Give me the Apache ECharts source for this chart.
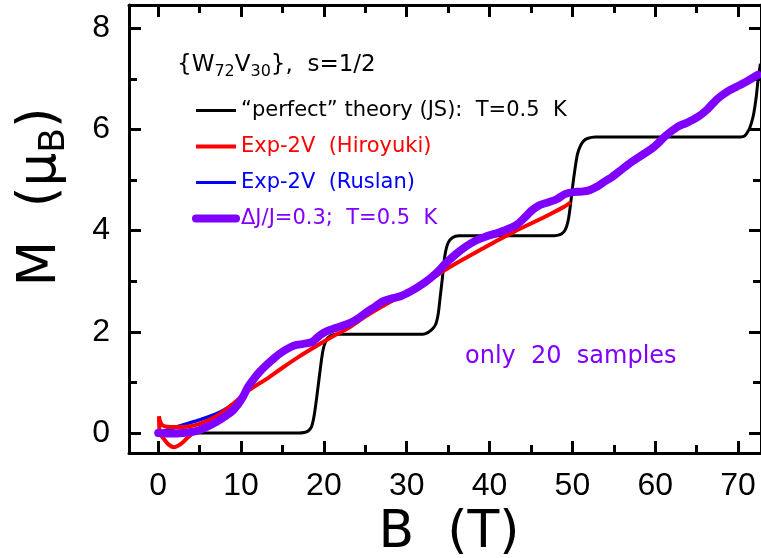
<!DOCTYPE html>
<html><head><meta charset="utf-8">
<script src="https://cdn.jsdelivr.net/npm/echarts@6/dist/echarts.min.js"></script>
<style>html,body{margin:0;padding:0;background:#fff}#c{width:761px;height:558px}</style>
</head><body><div id="c"></div>
<script>
// ---- tick values ----
const xMajorTicks = [0, 10, 20, 30, 40, 50, 60, 70];
const xMinorTicks = [5, 15, 25, 35, 45, 55, 65];
const yMajorTicks = [0, 2, 4, 6, 8];
const yMinorTicks = [1, 3, 5, 7];

// ---- series names ----
const nameTheory = '\u201Cperfect\u201D theory (JS):  T=0.5  K';
const nameHiro = 'Exp-2V  (Hiroyuki)';
const nameRuslan = 'Exp-2V  (Ruslan)';
const namePurple = '\u0394J/J=0.3;  T=0.5  K';

// ---- "perfect" theory (black) ----
const blackB = [0, 17.0, 17.6, 18.1, 18.5, 18.8, 19.1, 19.5, 19.9, 20.3, 20.8, 21.5, 23,
  31.5, 32.2, 33.0, 33.5, 33.8, 34.05, 34.3, 34.6, 35.0, 35.5, 36.3, 38,
  47.8, 48.5, 49.0, 49.3, 49.55, 49.8, 50.05, 50.3, 50.6, 50.9, 51.3, 51.8, 52.8,
  70.3, 70.8, 71.3, 71.6, 71.9, 72.2, 72.4, 72.7];
const blackM = [0, 0, 0.01, 0.04, 0.12, 0.32, 0.66, 1.18, 1.64, 1.84, 1.92, 1.95, 1.95,
  1.95, 1.96, 2.04, 2.15, 2.35, 2.7, 3.05, 3.5, 3.76, 3.86, 3.9, 3.9,
  3.9, 3.92, 3.98, 4.08, 4.25, 4.55, 4.9, 5.2, 5.5, 5.65, 5.76, 5.82, 5.85,
  5.85, 5.87, 5.99, 6.12, 6.32, 6.65, 6.95, 7.3];

// ---- Exp-2V (Hiroyuki), red ----
const redB = [4.3, 3.5, 2.7, 1.9, 1.2, 0.6, 0.2, 0.1, 0.3, 0.8, 1.5, 3.0, 5.0, 7.0, 9.0, 11.0,
  13.0, 15.0, 17.0, 19.0, 21.0, 23.0, 25.0, 27.0, 29.0, 31.0, 33.0, 35.0, 37.0,
  39.0, 41.0, 43.0, 45.0, 47.0, 49.0, 49.8];
const redM = [0.02, -0.1, -0.22, -0.28, -0.22, -0.1, 0.0, 0.33, 0.2, 0.13, 0.12, 0.12, 0.18, 0.33, 0.57, 0.85,
  1.06, 1.29, 1.51, 1.71, 1.9, 2.08, 2.3, 2.5, 2.68, 2.86, 3.05, 3.26, 3.45,
  3.63, 3.81, 3.98, 4.14, 4.3, 4.47, 4.56];

// ---- Exp-2V (Ruslan), blue ----
const blueB = [0, 1.5, 3.0, 5.0, 7.0, 8.0, 9.0];
const blueM = [0, 0.08, 0.16, 0.26, 0.38, 0.46, 0.57];

// ---- dJ/J=0.3, purple ----
const purpleB = [0, 1.5, 3, 4, 5, 6, 7.05, 8, 9.05, 9.7, 10.25, 10.8, 11.45, 12.2, 13.05, 14, 15.05,
  16, 16.7, 17.9, 18.6, 19.1, 19.7, 20.3, 21.5, 23.1, 24.2, 25.1, 26.2, 27.1, 28.2, 29.2, 30,
  31, 32.3, 33.5, 34.7, 35.9, 37.1, 38.3, 39.5, 40.7, 41.9, 43.3, 44.2, 45.1, 46, 47.1, 48.1,
  49.1, 50.1, 51.1, 52.1, 53.1, 54, 54.7, 55.9, 57.1, 58.5, 59.9, 61.3, 62.7, 63.8, 65.1,
  66.2, 67.5, 68.75, 69.8, 70.75, 72.4];
const purpleM = [0, -0.01, 0.0, 0.02, 0.06, 0.13, 0.22, 0.32, 0.45, 0.58, 0.72, 0.9, 1.05, 1.2, 1.34, 1.48, 1.61,
  1.7, 1.74, 1.77, 1.8, 1.87, 1.95, 2.01, 2.08, 2.17, 2.27, 2.38, 2.5, 2.6, 2.66, 2.7, 2.76,
  2.85, 2.99, 3.15, 3.35, 3.53, 3.68, 3.8, 3.88, 3.94, 4.01, 4.12, 4.25, 4.4, 4.5, 4.56, 4.62,
  4.72, 4.76, 4.77, 4.8, 4.88, 4.98, 5.05, 5.2, 5.35, 5.5, 5.66, 5.88, 6.05, 6.13, 6.24,
  6.38, 6.6, 6.75, 6.84, 6.92, 7.08];

function pairs(a, b) { return a.map((v, i) => [v, b[i]]); }

const X_MIN = -3.526, X_MAX = 72.77, Y_MIN = -0.395, Y_MAX = 8.458;
const BLACK = '#000000', RED = '#ff0000', BLUE = '#0000ff', PURPLE = '#8000ff';
const TICKFONT = 'Liberation Sans';
const TEXTFONT = 'DejaVu Sans';

function xAx(pos, ticks, len, showLine, showLabel) {
  return {
    type: 'value', position: pos, min: X_MIN, max: X_MAX,
    axisLine: { show: showLine, onZero: false, lineStyle: { color: BLACK, width: 3 } },
    axisTick: { show: true, inside: true, length: len, customValues: ticks, lineStyle: { color: BLACK, width: 3 } },
    axisLabel: { show: showLabel, customValues: ticks, margin: 17, color: BLACK, fontSize: 32, fontFamily: TICKFONT },
    splitLine: { show: false }
  };
}
function yAx(pos, ticks, len, showLine, showLabel) {
  return {
    type: 'value', position: pos, min: Y_MIN, max: Y_MAX,
    axisLine: { show: showLine, onZero: false, lineStyle: { color: BLACK, width: 3 } },
    axisTick: { show: true, inside: true, length: len, customValues: ticks, lineStyle: { color: BLACK, width: 3 } },
    axisLabel: { show: showLabel, customValues: ticks, margin: 19, color: BLACK, fontSize: 32, fontFamily: TICKFONT },
    splitLine: { show: false }
  };
}

const hiddenSymbol = { color: 'rgba(0,0,0,0)', borderWidth: 0, opacity: 0 };

const chart = echarts.init(document.getElementById('c'), null, { renderer: 'canvas' });
chart.setOption({
  animation: false,
  backgroundColor: '#ffffff',
  grid: { left: 129, right: -2, top: 5, bottom: 105, containLabel: false },
  xAxis: [
    xAx('bottom', xMajorTicks, 12, true, true),
    xAx('bottom', xMinorTicks, 8, false, false),
    xAx('top', xMajorTicks, 12, true, false),
    xAx('top', xMinorTicks, 8, false, false)
  ],
  yAxis: [
    yAx('left', yMajorTicks, 12, true, true),
    yAx('left', yMinorTicks, 8, false, false),
    yAx('right', yMajorTicks, 12, true, false),
    yAx('right', yMinorTicks, 8, false, false)
  ],
  legend: {
    orient: 'vertical', left: 192, top: 100, padding: 0,
    itemWidth: 40, itemHeight: 14, itemGap: 15,
    selectedMode: false,
    itemStyle: hiddenSymbol,
    textStyle: { fontFamily: TEXTFONT, fontSize: 21 },
    data: [
      { name: nameTheory, textStyle: { color: BLACK }, itemStyle: hiddenSymbol, lineStyle: { width: 3 } },
      { name: nameHiro, textStyle: { color: RED }, itemStyle: hiddenSymbol, lineStyle: { width: 4 } },
      { name: nameRuslan, textStyle: { color: BLUE }, itemStyle: hiddenSymbol, lineStyle: { width: 3 } },
      { name: namePurple, textStyle: { color: PURPLE }, itemStyle: hiddenSymbol, lineStyle: { width: 8, cap: 'round' } }
    ]
  },
  series: [
    { name: nameTheory, type: 'line', data: pairs(blackB, blackM), symbol: 'none', smooth: 0.3,
      lineStyle: { color: BLACK, width: 3 }, itemStyle: { color: BLACK } },
    { name: nameRuslan, type: 'line', data: pairs(blueB, blueM), symbol: 'none', smooth: 0.3,
      lineStyle: { color: BLUE, width: 3.5 }, itemStyle: { color: BLUE } },
    { name: nameHiro, type: 'line', data: pairs(redB, redM), symbol: 'none', smooth: 0.3,
      lineStyle: { color: RED, width: 4 }, itemStyle: { color: RED } },
    { name: namePurple, type: 'line', data: pairs(purpleB, purpleM), symbol: 'none', smooth: 0.3,
      lineStyle: { color: PURPLE, width: 8, cap: 'round', join: 'round' }, itemStyle: { color: PURPLE } }
  ],
  graphic: [
    { type: 'text', x: 41, y: 197, rotation: Math.PI / 2,
      style: { text: 'M  (\u03BC{s|B})', fontSize: 53, fontFamily: TEXTFONT, fill: BLACK,
        align: 'center', verticalAlign: 'middle', lineHeight: 64,
        rich: { s: { fontSize: 36, lineHeight: 36, verticalAlign: 'bottom', fontFamily: TEXTFONT, fill: BLACK } } } },
    { type: 'text', x: 449, y: 533,
      style: { text: 'B  (T)', fontSize: 52, fontFamily: TEXTFONT, fill: BLACK, align: 'center', verticalAlign: 'middle' } },
    { type: 'text', x: 177, y: 65,
      style: { text: '{W{s|72}V{s|30}},  s=1/2', fontSize: 23, fontFamily: TEXTFONT, fill: BLACK,
        align: 'left', verticalAlign: 'middle', lineHeight: 30,
        rich: { s: { fontSize: 16, lineHeight: 16, verticalAlign: 'bottom', fontFamily: TEXTFONT, fill: BLACK } } } },
    { type: 'text', x: 465, y: 357,
      style: { text: 'only  20  samples', fontSize: 24, fontFamily: TEXTFONT, fill: PURPLE, align: 'left', verticalAlign: 'middle' } }
  ]
});
</script>
</body></html>
